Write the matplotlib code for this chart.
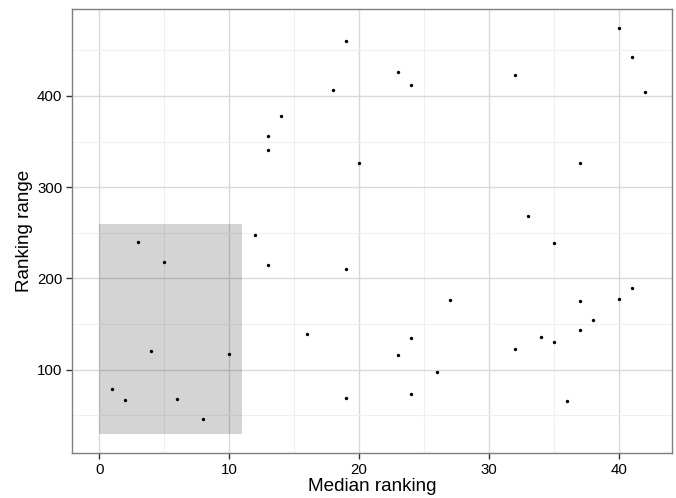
import matplotlib.pyplot as plt
from matplotlib.patches import Rectangle
from matplotlib.ticker import MultipleLocator

plt.rcParams['font.family'] = ['Liberation Sans', 'DejaVu Sans']

median_ranking = [19, 18, 14, 13, 13, 20, 12, 3,
                  40, 41, 42, 23, 24, 32, 37, 33, 35,
                  5, 13, 19, 16, 4, 10, 1, 2, 6, 8, 19,
                  41, 40, 37, 27, 38, 37, 24, 34, 35, 32, 23, 26, 24, 36]
ranking_range = [460, 406, 378, 356, 341, 327, 248, 240,
                 474, 443, 404, 426, 412, 423, 326, 268, 239,
                 218, 215, 210, 139, 121, 117, 79, 67, 68, 46, 69,
                 190, 177, 175, 176, 154, 144, 135, 136, 130, 123, 116, 97, 73, 66]

# highlighted region
box_x = [0, 11]
box_y = [30, 260]


def make_plot(save_path):
    fig = plt.figure(figsize=(6.76, 4.98), dpi=100)
    ax = fig.add_axes([72 / 676, 1 - 453 / 498, 600 / 676, 444 / 498])

    ax.add_patch(Rectangle((box_x[0], box_y[0]), box_x[1] - box_x[0], box_y[1] - box_y[0],
                           facecolor='black', alpha=0.17, edgecolor='none', zorder=2))
    ax.scatter(median_ranking, ranking_range, s=6, color='black', linewidths=0, zorder=3)

    ax.set_xlim(-2.1, 44.1)
    ax.set_ylim(8.8, 495.2)
    ax.xaxis.set_major_locator(MultipleLocator(10))
    ax.xaxis.set_minor_locator(MultipleLocator(5))
    ax.set_yticks([100, 200, 300, 400])
    ax.set_yticks([50, 150, 250, 350, 450], minor=True)

    ax.grid(which='major', color='#d9d9d9', linewidth=1.0, zorder=1)
    ax.grid(which='minor', color='#f0f0f0', linewidth=0.8, zorder=1)
    ax.set_axisbelow(True)
    for sp in ax.spines.values():
        sp.set_color('#7f7f7f')
        sp.set_linewidth(1.0)
    ax.tick_params(which='major', length=4, width=1, color='#333333',
                   labelsize=10.8, labelcolor='black', pad=3)
    ax.tick_params(which='minor', length=0)

    ax.set_xlabel('Median ranking', fontsize=13.6, labelpad=1)
    ax.set_ylabel('Ranking range', fontsize=13.6, labelpad=3)

    fig.savefig(save_path, dpi=100)
    plt.close('all')


if __name__ == '__main__':
    make_plot('out.png')
